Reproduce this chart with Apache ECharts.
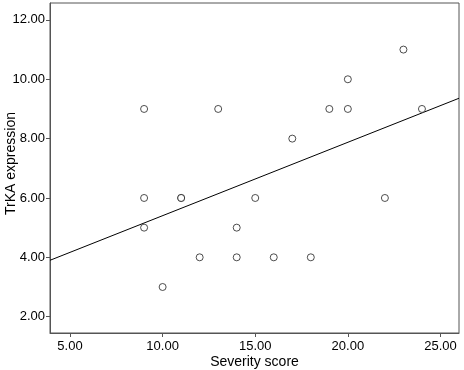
<!DOCTYPE html>
<html>
<head>
<meta charset="utf-8">
<script src="https://cdn.jsdelivr.net/npm/echarts@6/dist/echarts.min.js"></script>
<style>
  html, body { margin: 0; padding: 0; background: #fff; }
  #chart { width: 464px; height: 370px; }
</style>
</head>
<body>
<div id="chart"></div>
<script>
  // data
  var severity = [9, 9, 9, 10, 11, 11, 12, 13, 14, 14, 15, 16, 17, 18, 19, 20, 20, 22, 23, 24];
  var trka     = [9, 6, 5, 3, 6, 6, 4, 9, 5, 4, 6, 4, 8, 4, 9, 10, 9, 6, 11, 9];
  // fit line end points (at the plot edges)
  var fitX = [3.92, 26];
  var fitY = [3.9, 9.36];
  var xTicks = [5, 10, 15, 20, 25];
  var yTicks = [2, 4, 6, 8, 10, 12];

  var points = severity.map(function (x, i) { return [x, trka[i]]; });
  var fit = fitX.map(function (x, i) { return [x, fitY[i]]; });

  var font = 'Liberation Sans, Arial, sans-serif';

  var chart = echarts.init(document.getElementById('chart'));
  chart.setOption({
    animation: false,
    grid: {
      left: 50, top: 3, right: 5, bottom: 37,
      outerBoundsMode: 'none',
      containLabel: false,
      show: true, borderColor: '#555', borderWidth: 1
    },
    xAxis: {
      type: 'value',
      min: 3.92, max: 26,
      name: 'Severity score',
      nameLocation: 'middle',
      nameGap: 22,
      nameMoveOverlap: false,
      nameTextStyle: { fontFamily: font, fontSize: 14, color: '#000' },
      axisLine: { show: true, lineStyle: { color: '#555' } },
      axisTick: { show: true, length: 4, customValues: xTicks, lineStyle: { color: '#555' } },
      axisLabel: {
        customValues: xTicks, margin: 7,
        fontFamily: font, fontSize: 13, color: '#000',
        formatter: function (v) { return v.toFixed(2); }
      },
      splitLine: { show: false }
    },
    yAxis: {
      type: 'value',
      min: 1.45, max: 12.57,
      name: 'TrKA expression',
      nameLocation: 'middle',
      nameGap: 32,
      nameMoveOverlap: false,
      nameTextStyle: { fontFamily: font, fontSize: 14, color: '#000', padding: [0, 0, 0, 9] },
      axisLine: { show: true, lineStyle: { color: '#555' } },
      axisTick: { show: true, length: 4, customValues: yTicks, lineStyle: { color: '#555' } },
      axisLabel: {
        customValues: yTicks, margin: 5,
        fontFamily: font, fontSize: 13, color: '#000',
        formatter: function (v) { return v.toFixed(2); }
      },
      splitLine: { show: false }
    },
    series: [{
      type: 'line',
      data: fit,
      symbol: 'none',
      lineStyle: { color: '#000', width: 1 },
      z: 1
    }, {
      type: 'scatter',
      data: points,
      symbol: 'circle',
      symbolSize: 7,
      itemStyle: { color: '#fff', borderColor: '#222', borderWidth: 1 },
      z: 2
    }]
  });
</script>
</body>
</html>
